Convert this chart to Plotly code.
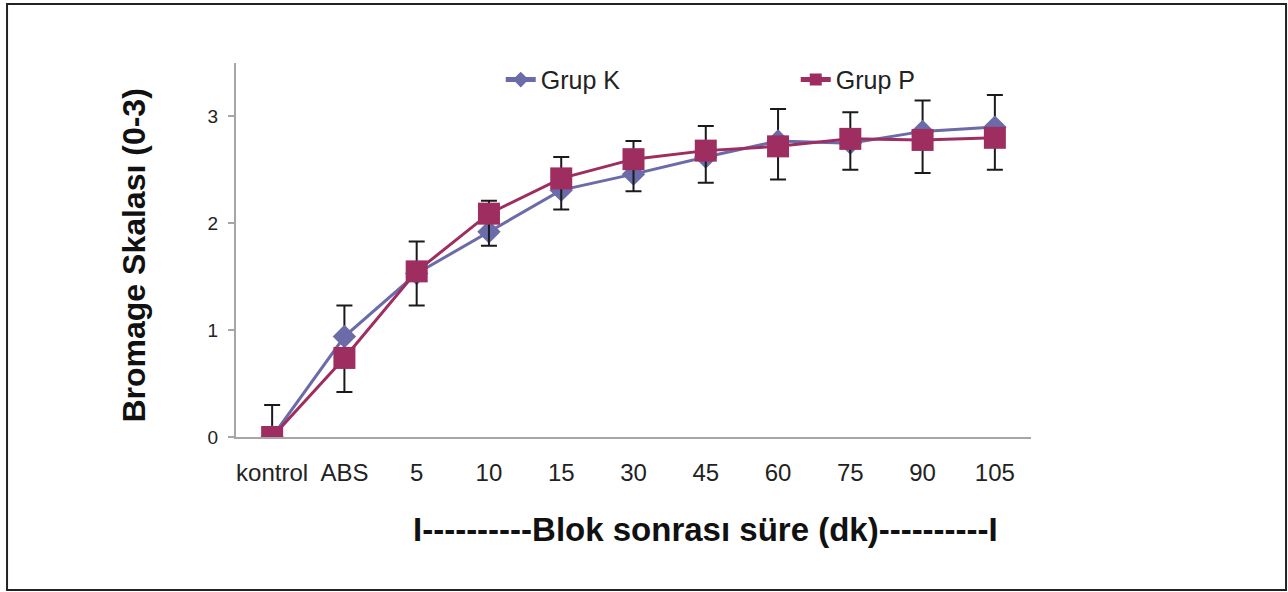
import plotly.graph_objects as go

categories = ["kontrol", "ABS", "5", "10", "15", "30", "45", "60", "75", "90", "105"]
grup_k = [0, 0.94, 1.53, 1.92, 2.31, 2.46, 2.62, 2.77, 2.75, 2.86, 2.90]
grup_p = [0, 0.74, 1.55, 2.09, 2.42, 2.60, 2.68, 2.72, 2.79, 2.78, 2.80]
err_k_plus = [0.30, 0.29, 0.30, 0.29, 0.31, 0.31, 0.29, 0.30, 0.29, 0.29, 0.30]
err_p_minus = [0, 0.32, 0.32, 0.30, 0.29, 0.30, 0.30, 0.31, 0.29, 0.31, 0.30]
zeros = [0] * len(categories)

K_COLOR = "#6b6ba9"
P_COLOR = "#9e2d60"
FONT = "Liberation Sans, Arial, sans-serif"

fig = go.Figure()
fig.add_trace(go.Scatter(
    x=categories, y=grup_k, name="Grup K", mode="lines+markers",
    line=dict(color=K_COLOR, width=3),
    marker=dict(symbol="diamond", size=18, color=K_COLOR),
    error_y=dict(type="data", symmetric=False, array=err_k_plus, arrayminus=zeros,
                 color="#1a1a1a", thickness=2, width=8),
))
fig.add_trace(go.Scatter(
    x=categories, y=grup_p, name="Grup P", mode="lines+markers",
    line=dict(color=P_COLOR, width=3),
    marker=dict(symbol="square", size=22, color=P_COLOR),
    error_y=dict(type="data", symmetric=False, array=zeros, arrayminus=err_p_minus,
                 color="#1a1a1a", thickness=2, width=8),
))

fig.update_layout(
    width=1288, height=592,
    margin=dict(l=236, r=257, t=63, b=155),
    paper_bgcolor="white", plot_bgcolor="white",
    font=dict(family=FONT, color="#222222"),
    showlegend=True,
    legend=dict(orientation="h", x=0.333, y=0.955, xanchor="left", yanchor="middle",
                font=dict(size=25, color="#222222"), itemsizing="constant",
                entrywidth=250, bgcolor="rgba(0,0,0,0)"),
    xaxis=dict(type="category", range=[-0.5, 10.5], showline=True, linecolor="#a6a6a6",
               linewidth=2, ticks="", showgrid=False, zeroline=False,
               tickfont=dict(size=24, color="#222222"), ticklabelstandoff=13),
    yaxis=dict(range=[0, 3.5], tickvals=[0, 1, 2, 3], showline=True, linecolor="#a6a6a6",
               linewidth=2, ticks="outside", ticklen=6, tickcolor="#a6a6a6", tickwidth=2,
               showgrid=False, zeroline=False, tickfont=dict(size=19, color="#222222"),
               ticklabelstandoff=6),
    annotations=[
        dict(text="Bromage Skalası (0-3)", textangle=-90, xref="paper", yref="paper",
             x=-0.154, y=0.484, showarrow=False,
             font=dict(size=32, family=FONT, color="#111111", weight="bold")),
        dict(text="I----------Blok sonrası süre (dk)----------I", xref="paper", yref="paper",
             x=0.591, y=-0.302, showarrow=False,
             font=dict(size=33, family=FONT, color="#111111", weight="bold")),
    ],
    shapes=[
        dict(type="rect", xref="paper", yref="paper", x0=-0.288, x1=1.3208,
             y0=-0.409, y1=1.158, line=dict(color="#222222", width=2)),
    ],
)

fig.write_html("out.html", config={"displayModeBar": False},
               post_script="document.body.style.margin='0px';")
